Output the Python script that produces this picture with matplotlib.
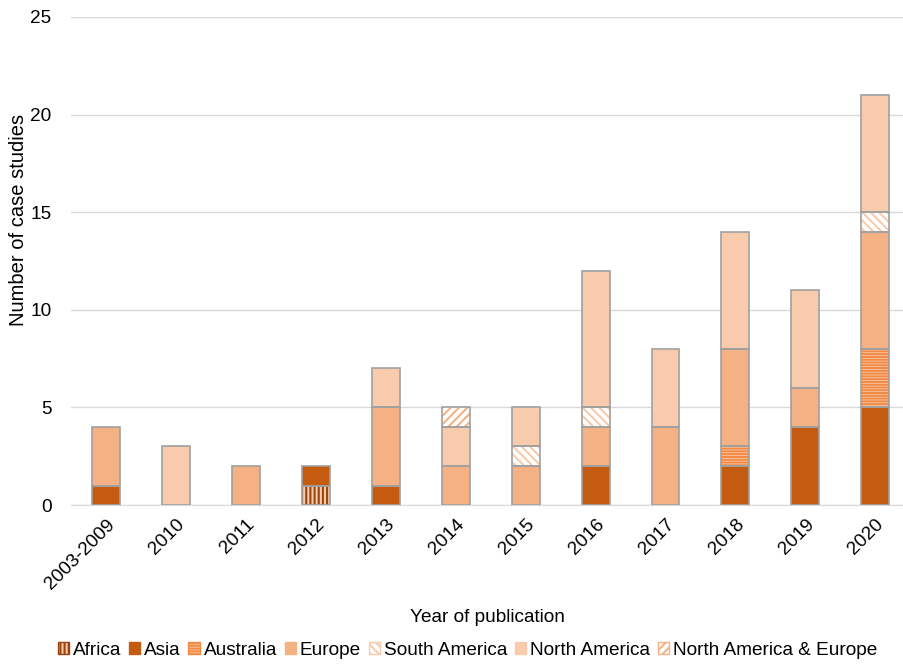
import matplotlib.pyplot as plt
from matplotlib.patches import Patch
import numpy as np

plt.rcParams['font.family'] = ['Liberation Sans', 'DejaVu Sans']
plt.rcParams['hatch.linewidth'] = 1.5

years = ['2003-2009', '2010', '2011', '2012', '2013', '2014', '2015',
         '2016', '2017', '2018', '2019', '2020']
africa = [0, 0, 0, 1, 0, 0, 0, 0, 0, 0, 0, 0]
asia = [1, 0, 0, 1, 1, 0, 0, 2, 0, 2, 4, 5]
australia = [0, 0, 0, 0, 0, 0, 0, 0, 0, 1, 0, 3]
europe = [3, 0, 2, 0, 4, 2, 2, 2, 4, 5, 2, 6]
south_america = [0, 0, 0, 0, 0, 0, 1, 1, 0, 0, 0, 1]
north_america = [0, 3, 0, 0, 2, 2, 2, 7, 4, 6, 5, 6]
na_europe = [0, 0, 0, 0, 0, 1, 0, 0, 0, 0, 0, 0]

# name, values, face colour, hatch, hatch colour
series = [
    ('Africa', africa, '#F8CBAD', '||||', '#9A4511'),
    ('Asia', asia, '#C55A11', None, '#C55A11'),
    ('Australia', australia, '#FAD3B6', '------', '#F28A45'),
    ('Europe', europe, '#F4B183', None, '#F4B183'),
    ('South America', south_america, 'white', '\\\\\\\\', '#F8CBAD'),
    ('North America', north_america, '#F8CBAD', None, '#F8CBAD'),
    ('North America & Europe', na_europe, 'white', '////', '#F4B183'),
]

fs = 13.7

fig = plt.figure(figsize=(9.04, 6.66), dpi=100)
ax = fig.add_axes([0.0785, 0.2417, 0.9215, 0.7328])

x = np.arange(len(years))
bottom = np.zeros(len(years))
width = 0.4
for name, vals, face, hatch, hcol in series:
    vals = np.array(vals, dtype=float)
    m = vals > 0
    ax.bar(x[m], vals[m], width, bottom=bottom[m], color=face, hatch=hatch,
           edgecolor=hcol, linewidth=0, zorder=2)
    ax.bar(x[m], vals[m], width, bottom=bottom[m], fill=False,
           edgecolor='#A0A0A0', linewidth=1.2, zorder=3)
    bottom += vals

ax.set_ylim(0, 25)
ax.set_xlim(-0.5, 11.41)
ax.set_yticks(range(0, 26, 5))
ax.set_xticks(x)
ax.set_xticklabels(years, rotation=45, ha='right', rotation_mode='anchor')
ax.tick_params(axis='both', length=0, labelsize=fs, colors='black')
ax.tick_params(axis='y', pad=14)
ax.tick_params(axis='x', pad=8)
ax.grid(axis='y', color='#D9D9D9', linewidth=1, zorder=0)
ax.set_axisbelow(True)
for s in ['top', 'right', 'left']:
    ax.spines[s].set_visible(False)
ax.spines['bottom'].set_color('#D9D9D9')
ax.set_ylabel('Number of case studies', fontsize=14.5)
ax.yaxis.set_label_coords(-0.052, 0.585)
ax.set_xlabel('Year of publication', fontsize=fs, labelpad=12)

handles = [Patch(facecolor=f, hatch=h, edgecolor=hc, label=n)
           for n, v, f, h, hc in series]
fig.legend(handles=handles, loc='lower center', bbox_to_anchor=(0.517, -0.015),
           ncol=7, frameon=False, fontsize=fs, handlelength=0.6,
           handleheight=0.6, handletextpad=0.2, columnspacing=0.4)

fig.savefig('out.png', dpi=100)
